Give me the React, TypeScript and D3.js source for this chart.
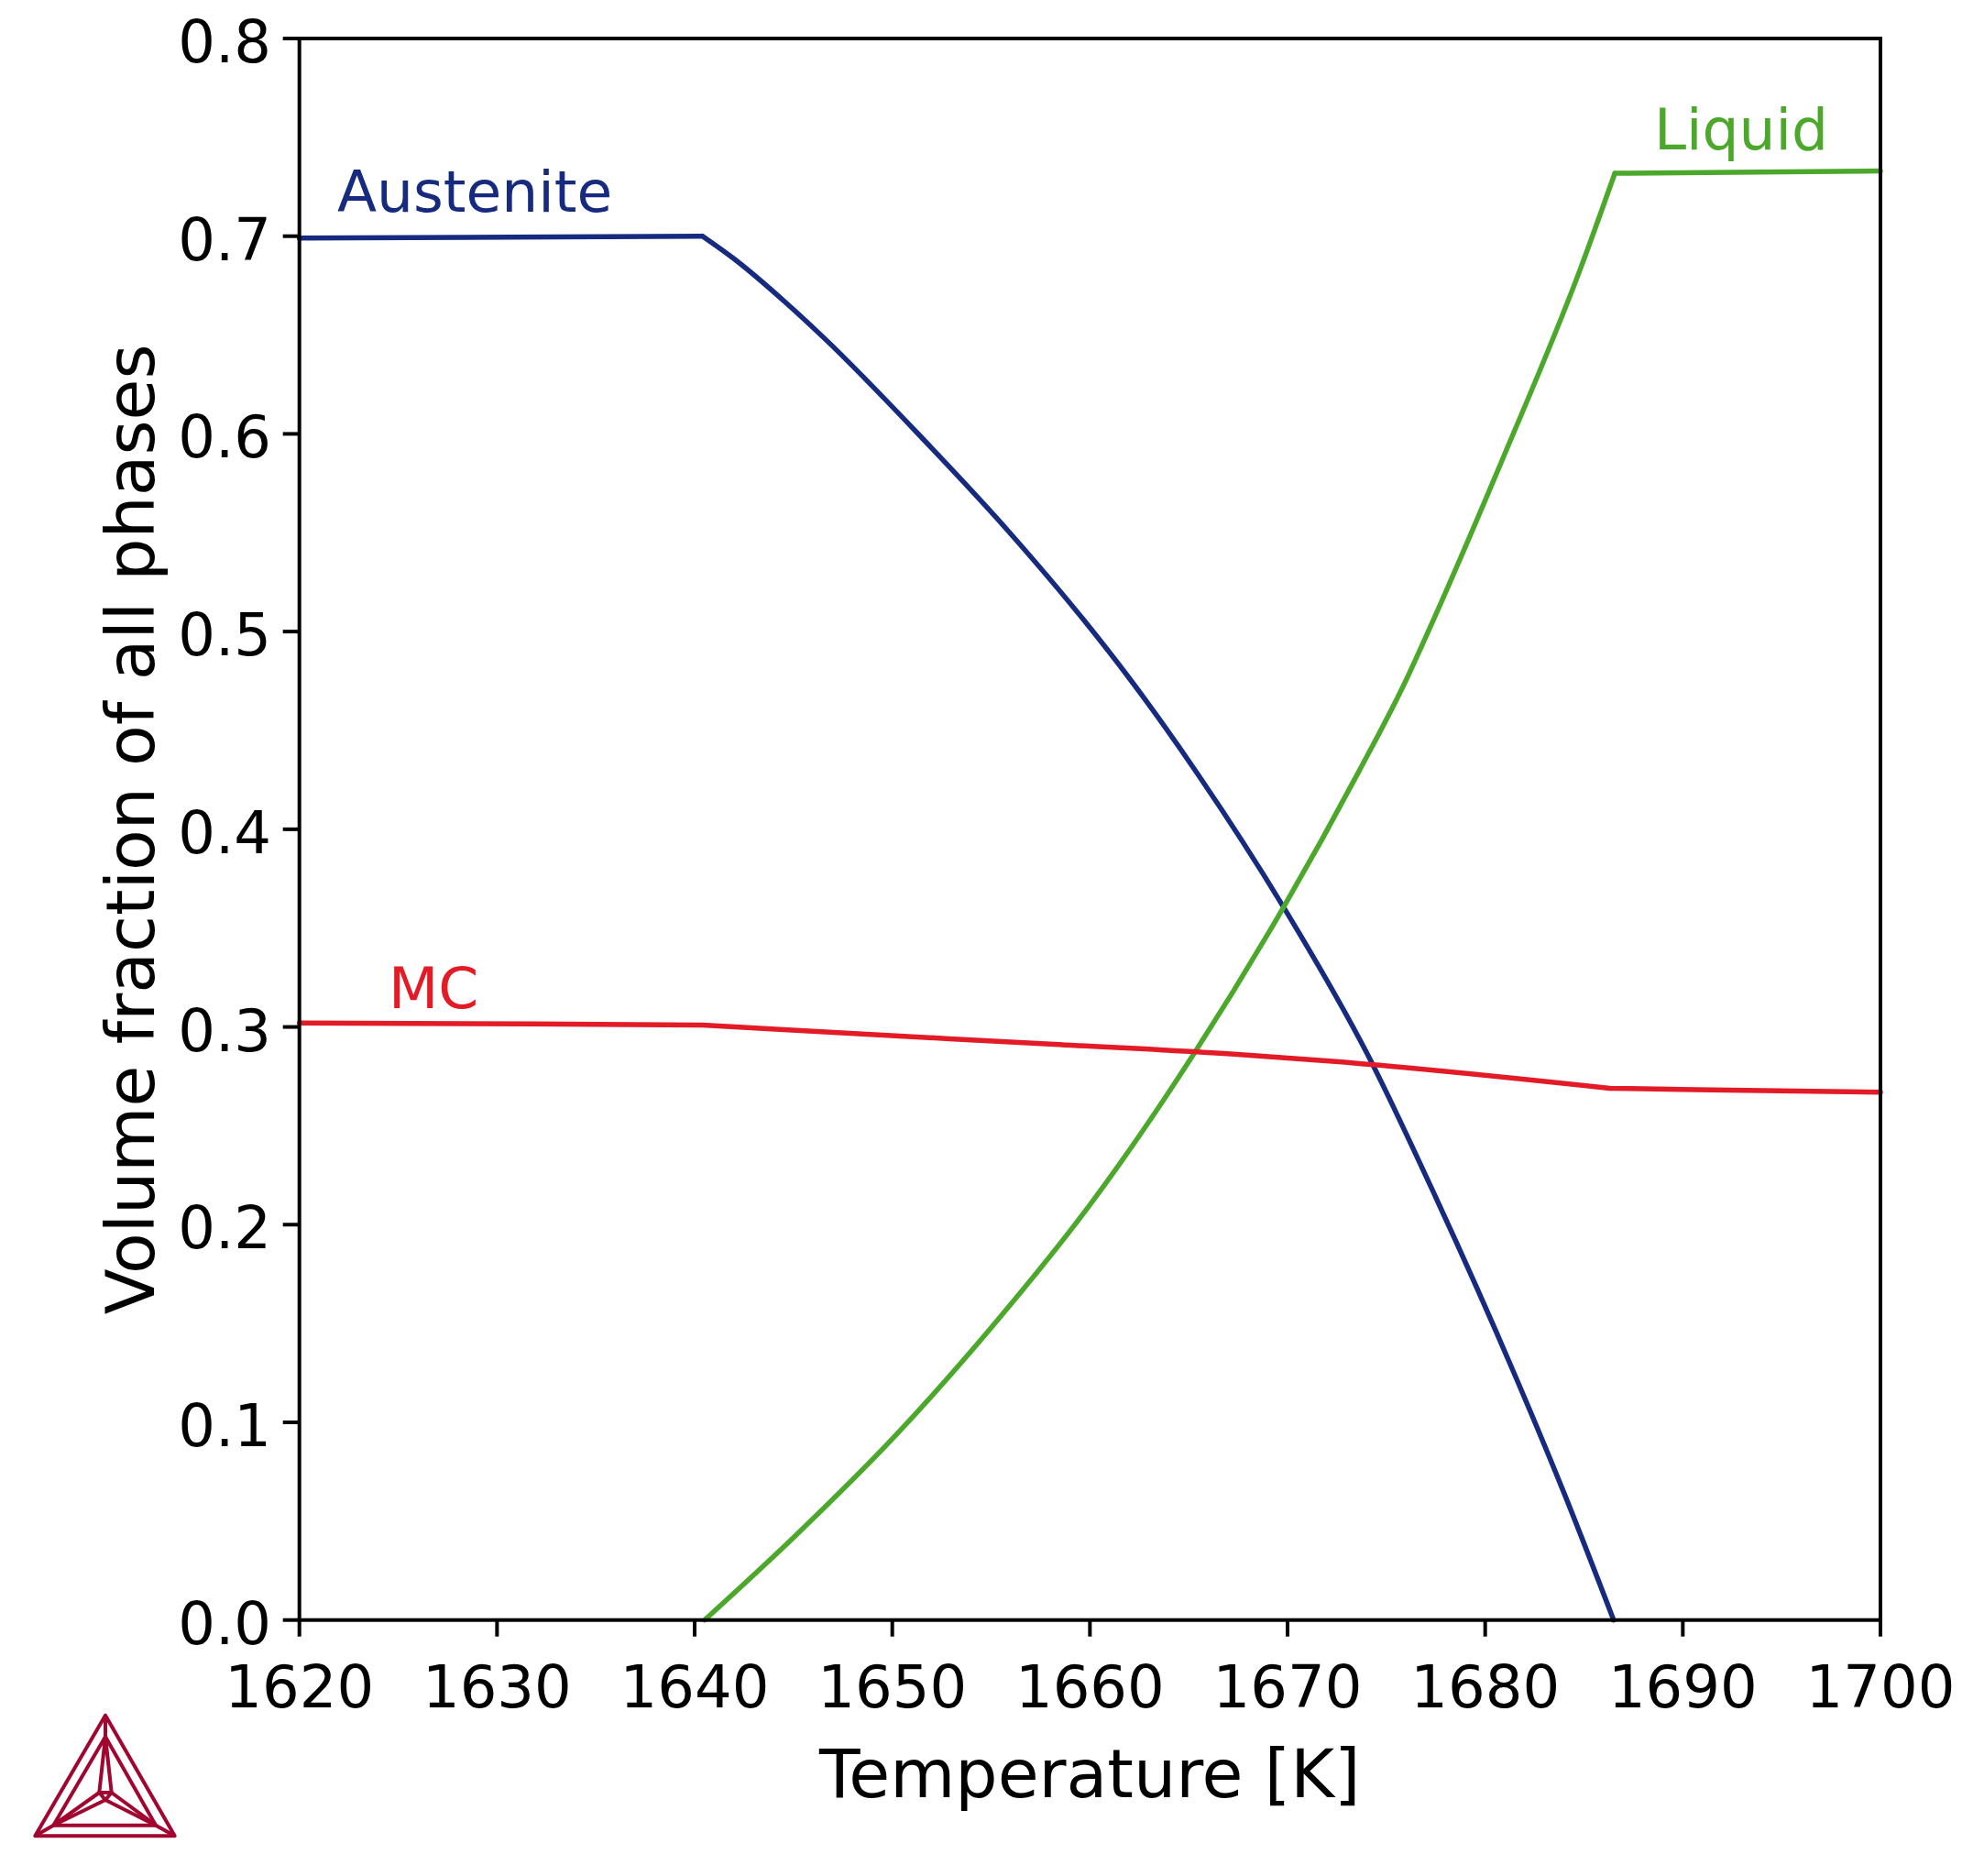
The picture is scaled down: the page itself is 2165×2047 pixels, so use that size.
import React, { useEffect } from "react";
import * as d3 from "d3";

const xTicks = [1620, 1630, 1640, 1650, 1660, 1670, 1680, 1690, 1700];
const yTicks = [0, 0.1, 0.2, 0.3, 0.4, 0.5, 0.6, 0.7, 0.8];

const austeniteT = [1620, 1640.4, 1642, 1644.6, 1646.6, 1651.5, 1655.9, 1659.7, 1662.0, 1665.45, 1669.8, 1674.0, 1677.5, 1681.5, 1684.0, 1686.5];
const austeniteV = [0.699, 0.7, 0.6885, 0.6665, 0.648, 0.598, 0.5505, 0.5057, 0.4763, 0.428, 0.3606, 0.287, 0.2138, 0.124, 0.064, 0.0];
const austeniteKinks = [1640.4];

const liquidT = [1640.5, 1645.05, 1650.15, 1655.1, 1660, 1665.3, 1669.8, 1673.65, 1676.0, 1677.05, 1680.9, 1684.8, 1686.56, 1700];
const liquidV = [0.0, 0.0422, 0.0932, 0.149, 0.21, 0.287, 0.3606, 0.43, 0.4755, 0.4985, 0.5877, 0.683, 0.7318, 0.733];
const liquidKinks = [1686.56];

const mcT = [1620, 1631.9, 1640.4, 1644.3, 1658.2, 1667.3, 1672.1, 1686.3, 1690.65, 1700];
const mcV = [0.302, 0.3015, 0.301, 0.2987, 0.2912, 0.2862, 0.2828, 0.269, 0.2683, 0.267];
const mcKinks = [1640.4, 1686.3];

const FONT = "'DejaVu Sans', Verdana, sans-serif";

function splitAtKinks(T: number[], V: number[], kinks: number[]): [number, number][][] {
  const segs: [number, number][][] = [];
  let cur: [number, number][] = [];
  T.forEach((t, i) => {
    const p: [number, number] = [t, V[i]];
    cur.push(p);
    if (kinks.includes(t)) {
      segs.push(cur);
      cur = [p];
    }
  });
  if (cur.length > 1) segs.push(cur);
  return segs;
}

export default function App() {
  useEffect(() => {
    document.body.style.margin = "0";
  }, []);

  const W = 2165;
  const H = 2047;
  const left = 326.7, right = 2052, top = 42, bottom = 1767.7;

  const x = d3.scaleLinear().domain([1620, 1700]).range([left, right]);
  const y = d3.scaleLinear().domain([0, 0.8]).range([bottom, top]);

  const line = d3
    .line<[number, number]>()
    .x((d) => x(d[0]))
    .y((d) => y(d[1]))
    .curve(d3.curveMonotoneX);

  const series = [
    { T: austeniteT, V: austeniteV, K: austeniteKinks, color: "#162a80" },
    { T: liquidT, V: liquidV, K: liquidKinks, color: "#4ca82b" },
    { T: mcT, V: mcV, K: mcKinks, color: "#e21b26" },
  ];

  const logo = "#a0062f";

  return (
    <svg width={W} height={H} style={{ display: "block", background: "#fff" }}>
      <rect x={0} y={0} width={W} height={H} fill="#fff" />
      <g fill="none" strokeWidth={5.5} strokeLinejoin="round" strokeLinecap="round">
        {series.map((s, i) => (
          <path
            key={i}
            d={splitAtKinks(s.T, s.V, s.K).map((seg) => line(seg) || "").join("")}
            stroke={s.color}
          />
        ))}
      </g>
      <rect x={left} y={top} width={right - left} height={bottom - top} fill="none" stroke="#000" strokeWidth={4} />
      <g>
        {xTicks.map((t) => (
          <g key={t}>
            <line x1={x(t)} x2={x(t)} y1={bottom} y2={bottom + 18} stroke="#000" strokeWidth={4} />
            <text x={x(t)} y={bottom + 95} textAnchor="middle" fontFamily={FONT} fontSize={64} fill="#000">
              {t}
            </text>
          </g>
        ))}
      </g>
      <g>
        {yTicks.map((v) => (
          <g key={v}>
            <line x1={left - 18} x2={left} y1={y(v)} y2={y(v)} stroke="#000" strokeWidth={4} />
            <text x={296} y={y(v) + 26} textAnchor="end" fontFamily={FONT} fontSize={64} fill="#000">
              {d3.format(".1f")(v)}
            </text>
          </g>
        ))}
      </g>
      <text x={(left + right) / 2} y={1961} textAnchor="middle" fontFamily={FONT} fontSize={73} fill="#000">
        Temperature [K]
      </text>
      <text
        transform={`translate(168, ${(top + bottom) / 2}) rotate(-90)`}
        textAnchor="middle"
        fontFamily={FONT}
        fontSize={73}
        fill="#000"
      >
        Volume fraction of all phases
      </text>
      <text x={368} y={231} fontFamily={FONT} fontSize={63} fill="#162a80">Austenite</text>
      <text x={1805} y={163} fontFamily={FONT} fontSize={63} fill="#4ca82b">Liquid</text>
      <text x={424} y={1100} fontFamily={FONT} fontSize={63} fill="#e21b26">MC</text>
      <g fill="none" stroke={logo} strokeWidth={4} strokeLinejoin="round">
        <polygon points="115,1871.7 38.3,2003.3 190.7,2003.3" />
        <polygon points="115,1895 58.3,1991.7 170,1991.7" />
        <polygon points="108.3,1956 121.7,1956 115,1964" />
        <line x1={115} y1={1895} x2={108.3} y2={1956} />
        <line x1={115} y1={1895} x2={121.7} y2={1956} />
        <line x1={58.3} y1={1991.7} x2={108.3} y2={1956} />
        <line x1={58.3} y1={1991.7} x2={115} y2={1964} />
        <line x1={170} y1={1991.7} x2={121.7} y2={1956} />
        <line x1={170} y1={1991.7} x2={115} y2={1964} />
        <line x1={115} y1={1871.7} x2={115} y2={1895} />
        <line x1={38.3} y1={2003.3} x2={58.3} y2={1991.7} />
        <line x1={190.7} y1={2003.3} x2={170} y2={1991.7} />
      </g>
    </svg>
  );
}
